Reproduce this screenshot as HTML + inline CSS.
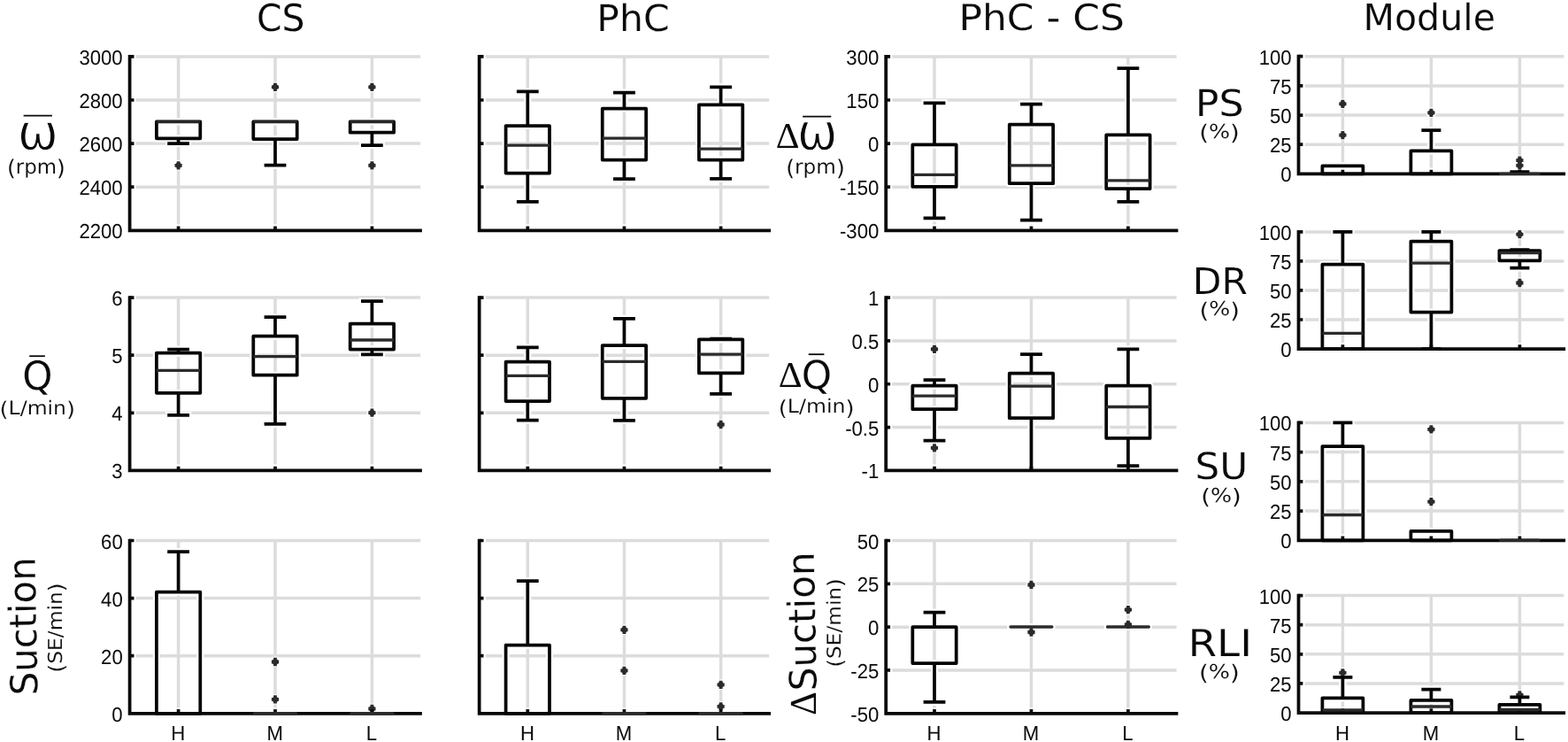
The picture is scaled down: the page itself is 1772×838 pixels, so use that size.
<!DOCTYPE html>
<html lang="en">
<head>
<meta charset="utf-8">
<title>Box plots: CS, PhC, PhC - CS, Module</title>
<style>
html,body{margin:0;padding:0;background:#fff;}
body{width:1772px;height:838px;overflow:hidden;}
svg{display:block;}
text{fill:#0a0a0a;text-rendering:geometricPrecision;}
.tk{font-family:"Liberation Sans",Arial,Helvetica,sans-serif;font-size:23.2px;}
.lb{font-family:"DejaVu Sans",Verdana,sans-serif;}
.dl{font-family:"Liberation Serif","Times New Roman",serif;}
.grid path{fill:none;stroke:#dcdcdc;stroke-width:3.5px;}
.halo path{fill:none;stroke:#fff;}
.ink path{fill:none;}
</style>
</head>
<body>
<svg width="1772" height="838" viewBox="0 0 1772 838">
<rect x="0" y="0" width="1772" height="838" fill="#ffffff"/>
<g class="grid">
<path d="M146.6 63.9H475.1M146.6 113H475.1M146.6 162.1H475.1M146.6 211.2H475.1M201.6 62.15V260.3M311 62.15V260.3M420.4 62.15V260.3"/>
<path d="M146.6 336.1H475.1M146.6 401.2H475.1M146.6 466.3H475.1M201.6 334.35V531.4M311 334.35V531.4M420.4 334.35V531.4"/>
<path d="M146.6 610.5H475.1M146.6 675.6H475.1M146.6 740.7H475.1M201.6 608.75V805.8M311 608.75V805.8M420.4 608.75V805.8"/>
<path d="M541.65 63.9H869.2M541.65 113H869.2M541.65 162.1H869.2M541.65 211.2H869.2M596.3 62.15V260.3M705.45 62.15V260.3M814.6 62.15V260.3"/>
<path d="M541.65 336.1H869.2M541.65 401.2H869.2M541.65 466.3H869.2M596.3 334.35V531.4M705.45 334.35V531.4M814.6 334.35V531.4"/>
<path d="M541.65 610.5H869.2M541.65 675.6H869.2M541.65 740.7H869.2M596.3 608.75V805.8M705.45 608.75V805.8M814.6 608.75V805.8"/>
<path d="M1001.2 63.9H1329.6M1001.2 113H1329.6M1001.2 162.1H1329.6M1001.2 211.2H1329.6M1056 62.15V260.3M1165.45 62.15V260.3M1274.9 62.15V260.3"/>
<path d="M1001.2 336.1H1329.6M1001.2 384.93H1329.6M1001.2 433.75H1329.6M1001.2 482.57H1329.6M1056 334.35V531.4M1165.45 334.35V531.4M1274.9 334.35V531.4"/>
<path d="M1001.2 610.5H1329.6M1001.2 659.33H1329.6M1001.2 708.15H1329.6M1001.2 756.97H1329.6M1056 608.75V805.8M1165.45 608.75V805.8M1274.9 608.75V805.8"/>
<path d="M1467.5 63.7H1767.3M1467.5 96.88H1767.3M1467.5 130.05H1767.3M1467.5 163.22H1767.3M1517.4 61.95V196.4M1617.4 61.95V196.4M1717.4 61.95V196.4"/>
<path d="M1467.5 261.9H1767.3M1467.5 294.92H1767.3M1467.5 327.95H1767.3M1467.5 360.98H1767.3M1517.4 260.15V394M1617.4 260.15V394M1717.4 260.15V394"/>
<path d="M1467.5 477.4H1767.3M1467.5 510.62H1767.3M1467.5 543.85H1767.3M1467.5 577.07H1767.3M1517.4 475.65V610.3M1617.4 475.65V610.3M1717.4 475.65V610.3"/>
<path d="M1467.5 672.6H1767.3M1467.5 705.7H1767.3M1467.5 738.8H1767.3M1467.5 771.9H1767.3M1517.4 670.85V805M1617.4 670.85V805M1717.4 670.85V805"/>
</g>
<g class="halo">
<path d="M146.6 63.9H153.7M146.6 113H153.7M146.6 162.1H153.7M146.6 211.2H153.7M201.6 260.3V253.4M311 260.3V253.4M420.4 260.3V253.4" stroke-width="8.1" stroke-linecap="butt" stroke-linejoin="miter"/>
<path d="M146.6 62.05V260.3H476.9" stroke-width="8.15" stroke-linecap="butt" stroke-linejoin="miter"/>
<path d="M201.6 156.3V162.1M187 162.1H216.2" stroke-width="8.15" stroke-linecap="butt" stroke-linejoin="miter"/>
<path d="M176.9 137.4H226.3V156.3H176.9Z" stroke-width="8.15" stroke-linecap="butt" stroke-linejoin="round"/>
<circle cx="201.6" cy="186.8" r="5.96" fill="#fff" stroke="none"/>
<path d="M311 157.1V186.5M296.4 186.5H325.6" stroke-width="8.15" stroke-linecap="butt" stroke-linejoin="miter"/>
<path d="M286.3 137.4H335.7V157.1H286.3Z" stroke-width="8.15" stroke-linecap="butt" stroke-linejoin="round"/>
<circle cx="311" cy="98.3" r="5.96" fill="#fff" stroke="none"/>
<path d="M420.4 149.7V164.1M405.8 164.1H435" stroke-width="8.15" stroke-linecap="butt" stroke-linejoin="miter"/>
<path d="M395.7 137.4H445.1V149.7H395.7Z" stroke-width="8.15" stroke-linecap="butt" stroke-linejoin="round"/>
<circle cx="420.4" cy="98.3" r="5.96" fill="#fff" stroke="none"/>
<circle cx="420.4" cy="186.8" r="5.96" fill="#fff" stroke="none"/>
<path d="M146.6 336.1H153.7M146.6 401.2H153.7M146.6 466.3H153.7M201.6 531.4V524.5M311 531.4V524.5M420.4 531.4V524.5" stroke-width="8.1" stroke-linecap="butt" stroke-linejoin="miter"/>
<path d="M146.6 334.25V531.4H476.9" stroke-width="8.15" stroke-linecap="butt" stroke-linejoin="miter"/>
<path d="M201.6 398.6V394.6M187 394.6H216.2M201.6 443.8V468.8M187 468.8H216.2" stroke-width="8.15" stroke-linecap="butt" stroke-linejoin="miter"/>
<path d="M176.9 398.6H226.3V443.8H176.9Z" stroke-width="8.15" stroke-linecap="butt" stroke-linejoin="round"/>
<path d="M311 379.6V358.2M296.4 358.2H325.6M311 423.7V478.9M296.4 478.9H325.6" stroke-width="8.15" stroke-linecap="butt" stroke-linejoin="miter"/>
<path d="M286.3 379.6H335.7V423.7H286.3Z" stroke-width="8.15" stroke-linecap="butt" stroke-linejoin="round"/>
<path d="M420.4 365.6V340.2M405.8 340.2H435M420.4 394.6V400.3M405.8 400.3H435" stroke-width="8.15" stroke-linecap="butt" stroke-linejoin="miter"/>
<path d="M395.7 365.6H445.1V394.6H395.7Z" stroke-width="8.15" stroke-linecap="butt" stroke-linejoin="round"/>
<circle cx="420.4" cy="466.2" r="5.96" fill="#fff" stroke="none"/>
<path d="M146.6 610.5H153.7M146.6 675.6H153.7M146.6 740.7H153.7M201.6 805.8V798.9M311 805.8V798.9M420.4 805.8V798.9" stroke-width="8.1" stroke-linecap="butt" stroke-linejoin="miter"/>
<path d="M146.6 608.65V805.8H476.9" stroke-width="8.15" stroke-linecap="butt" stroke-linejoin="miter"/>
<path d="M201.6 668.5V623M187 623H216.2" stroke-width="8.15" stroke-linecap="butt" stroke-linejoin="miter"/>
<path d="M176.9 668.5H226.3V805.8H176.9Z" stroke-width="8.15" stroke-linecap="butt" stroke-linejoin="round"/>
<circle cx="311" cy="747.5" r="5.96" fill="#fff" stroke="none"/>
<circle cx="311" cy="789.9" r="5.96" fill="#fff" stroke="none"/>
<circle cx="420.4" cy="800.5" r="5.96" fill="#fff" stroke="none"/>
<path d="M541.65 63.9H548.75M541.65 113H548.75M541.65 162.1H548.75M541.65 211.2H548.75M596.3 260.3V253.4M705.45 260.3V253.4M814.6 260.3V253.4" stroke-width="8.1" stroke-linecap="butt" stroke-linejoin="miter"/>
<path d="M541.65 62.05V260.3H871" stroke-width="8.15" stroke-linecap="butt" stroke-linejoin="miter"/>
<path d="M596.3 142V103.3M581.7 103.3H610.9M596.3 195.5V227.9M581.7 227.9H610.9" stroke-width="8.15" stroke-linecap="butt" stroke-linejoin="miter"/>
<path d="M571.6 142H621V195.5H571.6Z" stroke-width="8.15" stroke-linecap="butt" stroke-linejoin="round"/>
<path d="M705.45 122.7V104.6M690.85 104.6H720.05M705.45 180.5V202.2M690.85 202.2H720.05" stroke-width="8.15" stroke-linecap="butt" stroke-linejoin="miter"/>
<path d="M680.75 122.7H730.15V180.5H680.75Z" stroke-width="8.15" stroke-linecap="butt" stroke-linejoin="round"/>
<path d="M814.6 118.3V98.3M800 98.3H829.2M814.6 180.5V201.9M800 201.9H829.2" stroke-width="8.15" stroke-linecap="butt" stroke-linejoin="miter"/>
<path d="M789.9 118.3H839.3V180.5H789.9Z" stroke-width="8.15" stroke-linecap="butt" stroke-linejoin="round"/>
<path d="M541.65 336.1H548.75M541.65 401.2H548.75M541.65 466.3H548.75M596.3 531.4V524.5M705.45 531.4V524.5M814.6 531.4V524.5" stroke-width="8.1" stroke-linecap="butt" stroke-linejoin="miter"/>
<path d="M541.65 334.25V531.4H871" stroke-width="8.15" stroke-linecap="butt" stroke-linejoin="miter"/>
<path d="M596.3 408.7V392.3M581.7 392.3H610.9M596.3 453.1V474.5M581.7 474.5H610.9" stroke-width="8.15" stroke-linecap="butt" stroke-linejoin="miter"/>
<path d="M571.6 408.7H621V453.1H571.6Z" stroke-width="8.15" stroke-linecap="butt" stroke-linejoin="round"/>
<path d="M705.45 390V359.9M690.85 359.9H720.05M705.45 449.8V474.9M690.85 474.9H720.05" stroke-width="8.15" stroke-linecap="butt" stroke-linejoin="miter"/>
<path d="M680.75 390H730.15V449.8H680.75Z" stroke-width="8.15" stroke-linecap="butt" stroke-linejoin="round"/>
<path d="M814.6 383.3V382.6M800 382.6H829.2M814.6 421.4V444.8M800 444.8H829.2" stroke-width="8.15" stroke-linecap="butt" stroke-linejoin="miter"/>
<path d="M789.9 383.3H839.3V421.4H789.9Z" stroke-width="8.15" stroke-linecap="butt" stroke-linejoin="round"/>
<circle cx="814.6" cy="479.5" r="5.96" fill="#fff" stroke="none"/>
<path d="M541.65 610.5H548.75M541.65 675.6H548.75M541.65 740.7H548.75M596.3 805.8V798.9M705.45 805.8V798.9M814.6 805.8V798.9" stroke-width="8.1" stroke-linecap="butt" stroke-linejoin="miter"/>
<path d="M541.65 608.65V805.8H871" stroke-width="8.15" stroke-linecap="butt" stroke-linejoin="miter"/>
<path d="M596.3 728.5V656.2M581.7 656.2H610.9" stroke-width="8.15" stroke-linecap="butt" stroke-linejoin="miter"/>
<path d="M571.6 728.5H621V805.8H571.6Z" stroke-width="8.15" stroke-linecap="butt" stroke-linejoin="round"/>
<circle cx="705.45" cy="711.3" r="5.96" fill="#fff" stroke="none"/>
<circle cx="705.45" cy="757.4" r="5.96" fill="#fff" stroke="none"/>
<circle cx="814.6" cy="773.3" r="5.96" fill="#fff" stroke="none"/>
<circle cx="814.6" cy="797.9" r="5.96" fill="#fff" stroke="none"/>
<path d="M1001.2 63.9H1008.3M1001.2 113H1008.3M1001.2 162.1H1008.3M1001.2 211.2H1008.3M1056 260.3V253.4M1165.45 260.3V253.4M1274.9 260.3V253.4" stroke-width="8.1" stroke-linecap="butt" stroke-linejoin="miter"/>
<path d="M1001.2 62.05V260.3H1331.4" stroke-width="8.15" stroke-linecap="butt" stroke-linejoin="miter"/>
<path d="M1056 163.4V116.3M1041.4 116.3H1070.6M1056 210.9V246.3M1041.4 246.3H1070.6" stroke-width="8.15" stroke-linecap="butt" stroke-linejoin="miter"/>
<path d="M1031.3 163.4H1080.7V210.9H1031.3Z" stroke-width="8.15" stroke-linecap="butt" stroke-linejoin="round"/>
<path d="M1165.45 140.7V117.6M1150.85 117.6H1180.05M1165.45 207.2V248.7M1150.85 248.7H1180.05" stroke-width="8.15" stroke-linecap="butt" stroke-linejoin="miter"/>
<path d="M1140.75 140.7H1190.15V207.2H1140.75Z" stroke-width="8.15" stroke-linecap="butt" stroke-linejoin="round"/>
<path d="M1274.9 152.4V77.2M1260.3 77.2H1289.5M1274.9 213.2V227.9M1260.3 227.9H1289.5" stroke-width="8.15" stroke-linecap="butt" stroke-linejoin="miter"/>
<path d="M1250.2 152.4H1299.6V213.2H1250.2Z" stroke-width="8.15" stroke-linecap="butt" stroke-linejoin="round"/>
<path d="M1001.2 336.1H1008.3M1001.2 384.93H1008.3M1001.2 433.75H1008.3M1001.2 482.57H1008.3M1056 531.4V524.5M1165.45 531.4V524.5M1274.9 531.4V524.5" stroke-width="8.1" stroke-linecap="butt" stroke-linejoin="miter"/>
<path d="M1001.2 334.25V531.4H1331.4" stroke-width="8.15" stroke-linecap="butt" stroke-linejoin="miter"/>
<path d="M1056 435.7V429.1M1041.4 429.1H1070.6M1056 462.2V497.6M1041.4 497.6H1070.6" stroke-width="8.15" stroke-linecap="butt" stroke-linejoin="miter"/>
<path d="M1031.3 435.7H1080.7V462.2H1031.3Z" stroke-width="8.15" stroke-linecap="butt" stroke-linejoin="round"/>
<circle cx="1056" cy="394.3" r="5.96" fill="#fff" stroke="none"/>
<circle cx="1056" cy="505.9" r="5.96" fill="#fff" stroke="none"/>
<path d="M1165.45 421.7V400M1150.85 400H1180.05M1165.45 472.2V531.4" stroke-width="8.15" stroke-linecap="butt" stroke-linejoin="miter"/>
<path d="M1140.75 421.7H1190.15V472.2H1140.75Z" stroke-width="8.15" stroke-linecap="butt" stroke-linejoin="round"/>
<path d="M1274.9 435.7V394.3M1260.3 394.3H1289.5M1274.9 494.9V526M1260.3 526H1289.5" stroke-width="8.15" stroke-linecap="butt" stroke-linejoin="miter"/>
<path d="M1250.2 435.7H1299.6V494.9H1250.2Z" stroke-width="8.15" stroke-linecap="butt" stroke-linejoin="round"/>
<path d="M1001.2 610.5H1008.3M1001.2 659.33H1008.3M1001.2 708.15H1008.3M1001.2 756.97H1008.3M1056 805.8V798.9M1165.45 805.8V798.9M1274.9 805.8V798.9" stroke-width="8.1" stroke-linecap="butt" stroke-linejoin="miter"/>
<path d="M1001.2 608.65V805.8H1331.4" stroke-width="8.15" stroke-linecap="butt" stroke-linejoin="miter"/>
<path d="M1056 708V691.7M1041.4 691.7H1070.6M1056 749.1V792.9M1041.4 792.9H1070.6" stroke-width="8.15" stroke-linecap="butt" stroke-linejoin="miter"/>
<path d="M1031.3 708H1080.7V749.1H1031.3Z" stroke-width="8.15" stroke-linecap="butt" stroke-linejoin="round"/>
<path d="M1142.05 708H1188.85" stroke-width="7.8" stroke-linecap="round" stroke-linejoin="miter"/>
<circle cx="1165.45" cy="660.5" r="5.96" fill="#fff" stroke="none"/>
<circle cx="1165.45" cy="714" r="5.96" fill="#fff" stroke="none"/>
<path d="M1251.5 708H1298.3" stroke-width="7.8" stroke-linecap="round" stroke-linejoin="miter"/>
<circle cx="1274.9" cy="688.7" r="5.96" fill="#fff" stroke="none"/>
<circle cx="1274.9" cy="705.3" r="5.96" fill="#fff" stroke="none"/>
<path d="M1467.5 63.7H1474.6M1467.5 96.88H1474.6M1467.5 130.05H1474.6M1467.5 163.22H1474.6M1517.4 196.4V189.5M1617.4 196.4V189.5M1717.4 196.4V189.5" stroke-width="8.1" stroke-linecap="butt" stroke-linejoin="miter"/>
<path d="M1467.5 61.85V196.4H1769.1" stroke-width="8.15" stroke-linecap="butt" stroke-linejoin="miter"/>
<path d="M1494.4 187.4H1540.4V196.4H1494.4Z" stroke-width="8.15" stroke-linecap="butt" stroke-linejoin="round"/>
<circle cx="1517.4" cy="117.3" r="5.96" fill="#fff" stroke="none"/>
<circle cx="1517.4" cy="152.6" r="5.96" fill="#fff" stroke="none"/>
<path d="M1617.4 170.4V147.1M1604.2 147.1H1630.6" stroke-width="8.15" stroke-linecap="butt" stroke-linejoin="miter"/>
<path d="M1594.4 170.4H1640.4V196.4H1594.4Z" stroke-width="8.15" stroke-linecap="butt" stroke-linejoin="round"/>
<circle cx="1617.4" cy="127.3" r="5.96" fill="#fff" stroke="none"/>
<path d="M1717.4 196.4V194M1704.2 194H1730.6" stroke-width="8.15" stroke-linecap="butt" stroke-linejoin="miter"/>
<circle cx="1717.4" cy="181.1" r="5.96" fill="#fff" stroke="none"/>
<circle cx="1717.4" cy="186.9" r="5.96" fill="#fff" stroke="none"/>
<path d="M1467.5 261.9H1474.6M1467.5 294.92H1474.6M1467.5 327.95H1474.6M1467.5 360.98H1474.6M1517.4 394V387.1M1617.4 394V387.1M1717.4 394V387.1" stroke-width="8.1" stroke-linecap="butt" stroke-linejoin="miter"/>
<path d="M1467.5 260.05V394H1769.1" stroke-width="8.15" stroke-linecap="butt" stroke-linejoin="miter"/>
<path d="M1517.4 298.7V261.9M1504.2 261.9H1530.6" stroke-width="8.15" stroke-linecap="butt" stroke-linejoin="miter"/>
<path d="M1494.4 298.7H1540.4V394H1494.4Z" stroke-width="8.15" stroke-linecap="butt" stroke-linejoin="round"/>
<path d="M1617.4 272.6V261.9M1604.2 261.9H1630.6M1617.4 352.6V394M1604.2 394H1630.6" stroke-width="8.15" stroke-linecap="butt" stroke-linejoin="miter"/>
<path d="M1594.4 272.6H1640.4V352.6H1594.4Z" stroke-width="8.15" stroke-linecap="butt" stroke-linejoin="round"/>
<path d="M1717.4 283V282M1704.2 282H1730.6M1717.4 294.3V302.5M1704.2 302.5H1730.6" stroke-width="8.15" stroke-linecap="butt" stroke-linejoin="miter"/>
<path d="M1694.4 283H1740.4V294.3H1694.4Z" stroke-width="8.15" stroke-linecap="butt" stroke-linejoin="round"/>
<circle cx="1717.4" cy="264.6" r="5.96" fill="#fff" stroke="none"/>
<circle cx="1717.4" cy="319.5" r="5.96" fill="#fff" stroke="none"/>
<path d="M1467.5 477.4H1474.6M1467.5 510.62H1474.6M1467.5 543.85H1474.6M1467.5 577.07H1474.6M1517.4 610.3V603.4M1617.4 610.3V603.4M1717.4 610.3V603.4" stroke-width="8.1" stroke-linecap="butt" stroke-linejoin="miter"/>
<path d="M1467.5 475.55V610.3H1769.1" stroke-width="8.15" stroke-linecap="butt" stroke-linejoin="miter"/>
<path d="M1517.4 504.1V477.4M1504.2 477.4H1530.6" stroke-width="8.15" stroke-linecap="butt" stroke-linejoin="miter"/>
<path d="M1494.4 504.1H1540.4V610.3H1494.4Z" stroke-width="8.15" stroke-linecap="butt" stroke-linejoin="round"/>
<path d="M1594.4 599.9H1640.4V610.3H1594.4Z" stroke-width="8.15" stroke-linecap="butt" stroke-linejoin="round"/>
<circle cx="1617.4" cy="484.9" r="5.96" fill="#fff" stroke="none"/>
<circle cx="1617.4" cy="566.6" r="5.96" fill="#fff" stroke="none"/>
<path d="M1467.5 672.6H1474.6M1467.5 705.7H1474.6M1467.5 738.8H1474.6M1467.5 771.9H1474.6M1517.4 805V798.1M1617.4 805V798.1M1717.4 805V798.1" stroke-width="8.1" stroke-linecap="butt" stroke-linejoin="miter"/>
<path d="M1467.5 670.75V805H1769.1" stroke-width="8.15" stroke-linecap="butt" stroke-linejoin="miter"/>
<path d="M1517.4 788.4V764.8M1504.2 764.8H1530.6" stroke-width="8.15" stroke-linecap="butt" stroke-linejoin="miter"/>
<path d="M1494.4 788.4H1540.4V805H1494.4Z" stroke-width="8.15" stroke-linecap="butt" stroke-linejoin="round"/>
<circle cx="1517.4" cy="759.8" r="5.96" fill="#fff" stroke="none"/>
<path d="M1617.4 790.9V778.6M1604.2 778.6H1630.6" stroke-width="8.15" stroke-linecap="butt" stroke-linejoin="miter"/>
<path d="M1594.4 790.9H1640.4V805H1594.4Z" stroke-width="8.15" stroke-linecap="butt" stroke-linejoin="round"/>
<path d="M1717.4 795.9V787.4M1704.2 787.4H1730.6" stroke-width="8.15" stroke-linecap="butt" stroke-linejoin="miter"/>
<path d="M1694.4 795.9H1740.4V805H1694.4Z" stroke-width="8.15" stroke-linecap="butt" stroke-linejoin="round"/>
<circle cx="1717.4" cy="784.9" r="5.96" fill="#fff" stroke="none"/>
</g>
<g class="outliers">
<path d="M197.5 186.8H205.7M201.6 182.15V191.45" stroke="#2b2b2b" stroke-width="3.8" fill="none"/><circle cx="201.6" cy="186.8" r="3.2" fill="#2b2b2b"/>
<path d="M306.9 98.3H315.1M311 93.65V102.95" stroke="#2b2b2b" stroke-width="3.8" fill="none"/><circle cx="311" cy="98.3" r="3.2" fill="#2b2b2b"/>
<path d="M416.3 98.3H424.5M420.4 93.65V102.95" stroke="#2b2b2b" stroke-width="3.8" fill="none"/><circle cx="420.4" cy="98.3" r="3.2" fill="#2b2b2b"/>
<path d="M416.3 186.8H424.5M420.4 182.15V191.45" stroke="#2b2b2b" stroke-width="3.8" fill="none"/><circle cx="420.4" cy="186.8" r="3.2" fill="#2b2b2b"/>
<path d="M416.3 466.2H424.5M420.4 461.55V470.85" stroke="#2b2b2b" stroke-width="3.8" fill="none"/><circle cx="420.4" cy="466.2" r="3.2" fill="#2b2b2b"/>
<path d="M306.9 747.5H315.1M311 742.85V752.15" stroke="#2b2b2b" stroke-width="3.8" fill="none"/><circle cx="311" cy="747.5" r="3.2" fill="#2b2b2b"/>
<path d="M306.9 789.9H315.1M311 785.25V794.55" stroke="#2b2b2b" stroke-width="3.8" fill="none"/><circle cx="311" cy="789.9" r="3.2" fill="#2b2b2b"/>
<path d="M416.3 800.5H424.5M420.4 795.85V805.15" stroke="#2b2b2b" stroke-width="3.8" fill="none"/><circle cx="420.4" cy="800.5" r="3.2" fill="#2b2b2b"/>
<path d="M810.5 479.5H818.7M814.6 474.85V484.15" stroke="#2b2b2b" stroke-width="3.8" fill="none"/><circle cx="814.6" cy="479.5" r="3.2" fill="#2b2b2b"/>
<path d="M701.35 711.3H709.55M705.45 706.65V715.95" stroke="#2b2b2b" stroke-width="3.8" fill="none"/><circle cx="705.45" cy="711.3" r="3.2" fill="#2b2b2b"/>
<path d="M701.35 757.4H709.55M705.45 752.75V762.05" stroke="#2b2b2b" stroke-width="3.8" fill="none"/><circle cx="705.45" cy="757.4" r="3.2" fill="#2b2b2b"/>
<path d="M810.5 773.3H818.7M814.6 768.65V777.95" stroke="#2b2b2b" stroke-width="3.8" fill="none"/><circle cx="814.6" cy="773.3" r="3.2" fill="#2b2b2b"/>
<path d="M810.5 797.9H818.7M814.6 793.25V802.55" stroke="#2b2b2b" stroke-width="3.8" fill="none"/><circle cx="814.6" cy="797.9" r="3.2" fill="#2b2b2b"/>
<path d="M1051.9 394.3H1060.1M1056 389.65V398.95" stroke="#2b2b2b" stroke-width="3.8" fill="none"/><circle cx="1056" cy="394.3" r="3.2" fill="#2b2b2b"/>
<path d="M1051.9 505.9H1060.1M1056 501.25V510.55" stroke="#2b2b2b" stroke-width="3.8" fill="none"/><circle cx="1056" cy="505.9" r="3.2" fill="#2b2b2b"/>
<path d="M1161.35 660.5H1169.55M1165.45 655.85V665.15" stroke="#2b2b2b" stroke-width="3.8" fill="none"/><circle cx="1165.45" cy="660.5" r="3.2" fill="#2b2b2b"/>
<path d="M1161.35 714H1169.55M1165.45 709.35V718.65" stroke="#2b2b2b" stroke-width="3.8" fill="none"/><circle cx="1165.45" cy="714" r="3.2" fill="#2b2b2b"/>
<path d="M1270.8 688.7H1279M1274.9 684.05V693.35" stroke="#2b2b2b" stroke-width="3.8" fill="none"/><circle cx="1274.9" cy="688.7" r="3.2" fill="#2b2b2b"/>
<path d="M1270.8 705.3H1279M1274.9 700.65V709.95" stroke="#2b2b2b" stroke-width="3.8" fill="none"/><circle cx="1274.9" cy="705.3" r="3.2" fill="#2b2b2b"/>
<path d="M1513.3 117.3H1521.5M1517.4 112.65V121.95" stroke="#2b2b2b" stroke-width="3.8" fill="none"/><circle cx="1517.4" cy="117.3" r="3.2" fill="#2b2b2b"/>
<path d="M1513.3 152.6H1521.5M1517.4 147.95V157.25" stroke="#2b2b2b" stroke-width="3.8" fill="none"/><circle cx="1517.4" cy="152.6" r="3.2" fill="#2b2b2b"/>
<path d="M1613.3 127.3H1621.5M1617.4 122.65V131.95" stroke="#2b2b2b" stroke-width="3.8" fill="none"/><circle cx="1617.4" cy="127.3" r="3.2" fill="#2b2b2b"/>
<path d="M1713.3 181.1H1721.5M1717.4 176.45V185.75" stroke="#2b2b2b" stroke-width="3.8" fill="none"/><circle cx="1717.4" cy="181.1" r="3.2" fill="#2b2b2b"/>
<path d="M1713.3 186.9H1721.5M1717.4 182.25V191.55" stroke="#2b2b2b" stroke-width="3.8" fill="none"/><circle cx="1717.4" cy="186.9" r="3.2" fill="#2b2b2b"/>
<path d="M1713.3 264.6H1721.5M1717.4 259.95V269.25" stroke="#2b2b2b" stroke-width="3.8" fill="none"/><circle cx="1717.4" cy="264.6" r="3.2" fill="#2b2b2b"/>
<path d="M1713.3 319.5H1721.5M1717.4 314.85V324.15" stroke="#2b2b2b" stroke-width="3.8" fill="none"/><circle cx="1717.4" cy="319.5" r="3.2" fill="#2b2b2b"/>
<path d="M1613.3 484.9H1621.5M1617.4 480.25V489.55" stroke="#2b2b2b" stroke-width="3.8" fill="none"/><circle cx="1617.4" cy="484.9" r="3.2" fill="#2b2b2b"/>
<path d="M1613.3 566.6H1621.5M1617.4 561.95V571.25" stroke="#2b2b2b" stroke-width="3.8" fill="none"/><circle cx="1617.4" cy="566.6" r="3.2" fill="#2b2b2b"/>
<path d="M1513.3 759.8H1521.5M1517.4 755.15V764.45" stroke="#2b2b2b" stroke-width="3.8" fill="none"/><circle cx="1517.4" cy="759.8" r="3.2" fill="#2b2b2b"/>
<path d="M1713.3 784.9H1721.5M1717.4 780.25V789.55" stroke="#2b2b2b" stroke-width="3.8" fill="none"/><circle cx="1717.4" cy="784.9" r="3.2" fill="#2b2b2b"/>
</g>
<g class="ink">
<path d="M146.6 63.9H151.5M146.6 113H151.5M146.6 162.1H151.5M146.6 211.2H151.5M201.6 260.3V255.6M311 260.3V255.6M420.4 260.3V255.6" stroke="#0a0a0a" stroke-width="3.7" stroke-linecap="butt" stroke-linejoin="miter"/>
<path d="M146.6 62.05V260.3H476.9" stroke="#0a0a0a" stroke-width="3.75" stroke-linecap="butt" stroke-linejoin="miter"/>
<path d="M201.6 156.3V162.1M189.2 162.1H214" stroke="#050505" stroke-width="3.75" stroke-linecap="butt" stroke-linejoin="miter"/>
<path d="M176.9 137.4H226.3V156.3H176.9Z" stroke="#050505" stroke-width="3.75" stroke-linecap="butt" stroke-linejoin="round"/>
<path d="M176.9 137.5H226.3" stroke="#2b2b2b" stroke-width="2.6" stroke-linecap="butt" stroke-linejoin="miter"/>
<path d="M311 157.1V186.5M298.6 186.5H323.4" stroke="#050505" stroke-width="3.75" stroke-linecap="butt" stroke-linejoin="miter"/>
<path d="M286.3 137.4H335.7V157.1H286.3Z" stroke="#050505" stroke-width="3.75" stroke-linecap="butt" stroke-linejoin="round"/>
<path d="M286.3 137.5H335.7" stroke="#2b2b2b" stroke-width="2.6" stroke-linecap="butt" stroke-linejoin="miter"/>
<path d="M420.4 149.7V164.1M408 164.1H432.8" stroke="#050505" stroke-width="3.75" stroke-linecap="butt" stroke-linejoin="miter"/>
<path d="M395.7 137.4H445.1V149.7H395.7Z" stroke="#050505" stroke-width="3.75" stroke-linecap="butt" stroke-linejoin="round"/>
<path d="M395.7 137.5H445.1" stroke="#2b2b2b" stroke-width="2.6" stroke-linecap="butt" stroke-linejoin="miter"/>
<path d="M146.6 336.1H151.5M146.6 401.2H151.5M146.6 466.3H151.5M201.6 531.4V526.7M311 531.4V526.7M420.4 531.4V526.7" stroke="#0a0a0a" stroke-width="3.7" stroke-linecap="butt" stroke-linejoin="miter"/>
<path d="M146.6 334.25V531.4H476.9" stroke="#0a0a0a" stroke-width="3.75" stroke-linecap="butt" stroke-linejoin="miter"/>
<path d="M201.6 398.6V394.6M189.2 394.6H214M201.6 443.8V468.8M189.2 468.8H214" stroke="#050505" stroke-width="3.75" stroke-linecap="butt" stroke-linejoin="miter"/>
<path d="M176.9 398.6H226.3V443.8H176.9Z" stroke="#050505" stroke-width="3.75" stroke-linecap="butt" stroke-linejoin="round"/>
<path d="M176.9 418.4H226.3" stroke="#2b2b2b" stroke-width="3.3" stroke-linecap="butt" stroke-linejoin="miter"/>
<path d="M311 379.6V358.2M298.6 358.2H323.4M311 423.7V478.9M298.6 478.9H323.4" stroke="#050505" stroke-width="3.75" stroke-linecap="butt" stroke-linejoin="miter"/>
<path d="M286.3 379.6H335.7V423.7H286.3Z" stroke="#050505" stroke-width="3.75" stroke-linecap="butt" stroke-linejoin="round"/>
<path d="M286.3 402.7H335.7" stroke="#2b2b2b" stroke-width="3.3" stroke-linecap="butt" stroke-linejoin="miter"/>
<path d="M420.4 365.6V340.2M408 340.2H432.8M420.4 394.6V400.3M408 400.3H432.8" stroke="#050505" stroke-width="3.75" stroke-linecap="butt" stroke-linejoin="miter"/>
<path d="M395.7 365.6H445.1V394.6H395.7Z" stroke="#050505" stroke-width="3.75" stroke-linecap="butt" stroke-linejoin="round"/>
<path d="M395.7 384H445.1" stroke="#2b2b2b" stroke-width="3.3" stroke-linecap="butt" stroke-linejoin="miter"/>
<path d="M146.6 610.5H151.5M146.6 675.6H151.5M146.6 740.7H151.5M201.6 805.8V801.1M311 805.8V801.1M420.4 805.8V801.1" stroke="#0a0a0a" stroke-width="3.7" stroke-linecap="butt" stroke-linejoin="miter"/>
<path d="M146.6 608.65V805.8H476.9" stroke="#0a0a0a" stroke-width="3.75" stroke-linecap="butt" stroke-linejoin="miter"/>
<path d="M201.6 668.5V623M189.2 623H214" stroke="#050505" stroke-width="3.75" stroke-linecap="butt" stroke-linejoin="miter"/>
<path d="M176.9 668.5H226.3V805.8H176.9Z" stroke="#050505" stroke-width="3.75" stroke-linecap="butt" stroke-linejoin="round"/>
<path d="M287.6 805.8H334.4" stroke="#2b2b2b" stroke-width="3.4" stroke-linecap="round" stroke-linejoin="miter"/>
<path d="M397 805.8H443.8" stroke="#2b2b2b" stroke-width="3.4" stroke-linecap="round" stroke-linejoin="miter"/>
<path d="M541.65 63.9H546.55M541.65 113H546.55M541.65 162.1H546.55M541.65 211.2H546.55M596.3 260.3V255.6M705.45 260.3V255.6M814.6 260.3V255.6" stroke="#0a0a0a" stroke-width="3.7" stroke-linecap="butt" stroke-linejoin="miter"/>
<path d="M541.65 62.05V260.3H871" stroke="#0a0a0a" stroke-width="3.75" stroke-linecap="butt" stroke-linejoin="miter"/>
<path d="M596.3 142V103.3M583.9 103.3H608.7M596.3 195.5V227.9M583.9 227.9H608.7" stroke="#050505" stroke-width="3.75" stroke-linecap="butt" stroke-linejoin="miter"/>
<path d="M571.6 142H621V195.5H571.6Z" stroke="#050505" stroke-width="3.75" stroke-linecap="butt" stroke-linejoin="round"/>
<path d="M571.6 164.2H621" stroke="#2b2b2b" stroke-width="3.3" stroke-linecap="butt" stroke-linejoin="miter"/>
<path d="M705.45 122.7V104.6M693.05 104.6H717.85M705.45 180.5V202.2M693.05 202.2H717.85" stroke="#050505" stroke-width="3.75" stroke-linecap="butt" stroke-linejoin="miter"/>
<path d="M680.75 122.7H730.15V180.5H680.75Z" stroke="#050505" stroke-width="3.75" stroke-linecap="butt" stroke-linejoin="round"/>
<path d="M680.75 156.1H730.15" stroke="#2b2b2b" stroke-width="3.3" stroke-linecap="butt" stroke-linejoin="miter"/>
<path d="M814.6 118.3V98.3M802.2 98.3H827M814.6 180.5V201.9M802.2 201.9H827" stroke="#050505" stroke-width="3.75" stroke-linecap="butt" stroke-linejoin="miter"/>
<path d="M789.9 118.3H839.3V180.5H789.9Z" stroke="#050505" stroke-width="3.75" stroke-linecap="butt" stroke-linejoin="round"/>
<path d="M789.9 168.2H839.3" stroke="#2b2b2b" stroke-width="3.3" stroke-linecap="butt" stroke-linejoin="miter"/>
<path d="M541.65 336.1H546.55M541.65 401.2H546.55M541.65 466.3H546.55M596.3 531.4V526.7M705.45 531.4V526.7M814.6 531.4V526.7" stroke="#0a0a0a" stroke-width="3.7" stroke-linecap="butt" stroke-linejoin="miter"/>
<path d="M541.65 334.25V531.4H871" stroke="#0a0a0a" stroke-width="3.75" stroke-linecap="butt" stroke-linejoin="miter"/>
<path d="M596.3 408.7V392.3M583.9 392.3H608.7M596.3 453.1V474.5M583.9 474.5H608.7" stroke="#050505" stroke-width="3.75" stroke-linecap="butt" stroke-linejoin="miter"/>
<path d="M571.6 408.7H621V453.1H571.6Z" stroke="#050505" stroke-width="3.75" stroke-linecap="butt" stroke-linejoin="round"/>
<path d="M571.6 424.4H621" stroke="#2b2b2b" stroke-width="3.3" stroke-linecap="butt" stroke-linejoin="miter"/>
<path d="M705.45 390V359.9M693.05 359.9H717.85M705.45 449.8V474.9M693.05 474.9H717.85" stroke="#050505" stroke-width="3.75" stroke-linecap="butt" stroke-linejoin="miter"/>
<path d="M680.75 390H730.15V449.8H680.75Z" stroke="#050505" stroke-width="3.75" stroke-linecap="butt" stroke-linejoin="round"/>
<path d="M680.75 408.4H730.15" stroke="#2b2b2b" stroke-width="3.3" stroke-linecap="butt" stroke-linejoin="miter"/>
<path d="M814.6 383.3V382.6M802.2 382.6H827M814.6 421.4V444.8M802.2 444.8H827" stroke="#050505" stroke-width="3.75" stroke-linecap="butt" stroke-linejoin="miter"/>
<path d="M789.9 383.3H839.3V421.4H789.9Z" stroke="#050505" stroke-width="3.75" stroke-linecap="butt" stroke-linejoin="round"/>
<path d="M789.9 400.1H839.3" stroke="#2b2b2b" stroke-width="3.3" stroke-linecap="butt" stroke-linejoin="miter"/>
<path d="M541.65 610.5H546.55M541.65 675.6H546.55M541.65 740.7H546.55M596.3 805.8V801.1M705.45 805.8V801.1M814.6 805.8V801.1" stroke="#0a0a0a" stroke-width="3.7" stroke-linecap="butt" stroke-linejoin="miter"/>
<path d="M541.65 608.65V805.8H871" stroke="#0a0a0a" stroke-width="3.75" stroke-linecap="butt" stroke-linejoin="miter"/>
<path d="M596.3 728.5V656.2M583.9 656.2H608.7" stroke="#050505" stroke-width="3.75" stroke-linecap="butt" stroke-linejoin="miter"/>
<path d="M571.6 728.5H621V805.8H571.6Z" stroke="#050505" stroke-width="3.75" stroke-linecap="butt" stroke-linejoin="round"/>
<path d="M682.05 805.8H728.85" stroke="#2b2b2b" stroke-width="3.4" stroke-linecap="round" stroke-linejoin="miter"/>
<path d="M791.2 805.8H838" stroke="#2b2b2b" stroke-width="3.4" stroke-linecap="round" stroke-linejoin="miter"/>
<path d="M1001.2 63.9H1006.1M1001.2 113H1006.1M1001.2 162.1H1006.1M1001.2 211.2H1006.1M1056 260.3V255.6M1165.45 260.3V255.6M1274.9 260.3V255.6" stroke="#0a0a0a" stroke-width="3.7" stroke-linecap="butt" stroke-linejoin="miter"/>
<path d="M1001.2 62.05V260.3H1331.4" stroke="#0a0a0a" stroke-width="3.75" stroke-linecap="butt" stroke-linejoin="miter"/>
<path d="M1056 163.4V116.3M1043.6 116.3H1068.4M1056 210.9V246.3M1043.6 246.3H1068.4" stroke="#050505" stroke-width="3.75" stroke-linecap="butt" stroke-linejoin="miter"/>
<path d="M1031.3 163.4H1080.7V210.9H1031.3Z" stroke="#050505" stroke-width="3.75" stroke-linecap="butt" stroke-linejoin="round"/>
<path d="M1031.3 197.3H1080.7" stroke="#2b2b2b" stroke-width="3.3" stroke-linecap="butt" stroke-linejoin="miter"/>
<path d="M1165.45 140.7V117.6M1153.05 117.6H1177.85M1165.45 207.2V248.7M1153.05 248.7H1177.85" stroke="#050505" stroke-width="3.75" stroke-linecap="butt" stroke-linejoin="miter"/>
<path d="M1140.75 140.7H1190.15V207.2H1140.75Z" stroke="#050505" stroke-width="3.75" stroke-linecap="butt" stroke-linejoin="round"/>
<path d="M1140.75 186.9H1190.15" stroke="#2b2b2b" stroke-width="3.3" stroke-linecap="butt" stroke-linejoin="miter"/>
<path d="M1274.9 152.4V77.2M1262.5 77.2H1287.3M1274.9 213.2V227.9M1262.5 227.9H1287.3" stroke="#050505" stroke-width="3.75" stroke-linecap="butt" stroke-linejoin="miter"/>
<path d="M1250.2 152.4H1299.6V213.2H1250.2Z" stroke="#050505" stroke-width="3.75" stroke-linecap="butt" stroke-linejoin="round"/>
<path d="M1250.2 203.9H1299.6" stroke="#2b2b2b" stroke-width="3.3" stroke-linecap="butt" stroke-linejoin="miter"/>
<path d="M1001.2 336.1H1006.1M1001.2 384.93H1006.1M1001.2 433.75H1006.1M1001.2 482.57H1006.1M1056 531.4V526.7M1165.45 531.4V526.7M1274.9 531.4V526.7" stroke="#0a0a0a" stroke-width="3.7" stroke-linecap="butt" stroke-linejoin="miter"/>
<path d="M1001.2 334.25V531.4H1331.4" stroke="#0a0a0a" stroke-width="3.75" stroke-linecap="butt" stroke-linejoin="miter"/>
<path d="M1056 435.7V429.1M1043.6 429.1H1068.4M1056 462.2V497.6M1043.6 497.6H1068.4" stroke="#050505" stroke-width="3.75" stroke-linecap="butt" stroke-linejoin="miter"/>
<path d="M1031.3 435.7H1080.7V462.2H1031.3Z" stroke="#050505" stroke-width="3.75" stroke-linecap="butt" stroke-linejoin="round"/>
<path d="M1031.3 447.2H1080.7" stroke="#2b2b2b" stroke-width="3.3" stroke-linecap="butt" stroke-linejoin="miter"/>
<path d="M1165.45 421.7V400M1153.05 400H1177.85M1165.45 472.2V531.4" stroke="#050505" stroke-width="3.75" stroke-linecap="butt" stroke-linejoin="miter"/>
<path d="M1140.75 421.7H1190.15V472.2H1140.75Z" stroke="#050505" stroke-width="3.75" stroke-linecap="butt" stroke-linejoin="round"/>
<path d="M1140.75 436.1H1190.15" stroke="#2b2b2b" stroke-width="3.3" stroke-linecap="butt" stroke-linejoin="miter"/>
<path d="M1274.9 435.7V394.3M1262.5 394.3H1287.3M1274.9 494.9V526M1262.5 526H1287.3" stroke="#050505" stroke-width="3.75" stroke-linecap="butt" stroke-linejoin="miter"/>
<path d="M1250.2 435.7H1299.6V494.9H1250.2Z" stroke="#050505" stroke-width="3.75" stroke-linecap="butt" stroke-linejoin="round"/>
<path d="M1250.2 459.5H1299.6" stroke="#2b2b2b" stroke-width="3.3" stroke-linecap="butt" stroke-linejoin="miter"/>
<path d="M1001.2 610.5H1006.1M1001.2 659.33H1006.1M1001.2 708.15H1006.1M1001.2 756.97H1006.1M1056 805.8V801.1M1165.45 805.8V801.1M1274.9 805.8V801.1" stroke="#0a0a0a" stroke-width="3.7" stroke-linecap="butt" stroke-linejoin="miter"/>
<path d="M1001.2 608.65V805.8H1331.4" stroke="#0a0a0a" stroke-width="3.75" stroke-linecap="butt" stroke-linejoin="miter"/>
<path d="M1056 708V691.7M1043.6 691.7H1068.4M1056 749.1V792.9M1043.6 792.9H1068.4" stroke="#050505" stroke-width="3.75" stroke-linecap="butt" stroke-linejoin="miter"/>
<path d="M1031.3 708H1080.7V749.1H1031.3Z" stroke="#050505" stroke-width="3.75" stroke-linecap="butt" stroke-linejoin="round"/>
<path d="M1142.05 708H1188.85" stroke="#2b2b2b" stroke-width="3.4" stroke-linecap="round" stroke-linejoin="miter"/>
<path d="M1251.5 708H1298.3" stroke="#2b2b2b" stroke-width="3.4" stroke-linecap="round" stroke-linejoin="miter"/>
<path d="M1467.5 63.7H1472.4M1467.5 96.88H1472.4M1467.5 130.05H1472.4M1467.5 163.22H1472.4M1517.4 196.4V191.7M1617.4 196.4V191.7M1717.4 196.4V191.7" stroke="#0a0a0a" stroke-width="3.7" stroke-linecap="butt" stroke-linejoin="miter"/>
<path d="M1467.5 61.85V196.4H1769.1" stroke="#0a0a0a" stroke-width="3.75" stroke-linecap="butt" stroke-linejoin="miter"/>
<path d="M1494.4 187.4H1540.4V196.4H1494.4Z" stroke="#050505" stroke-width="3.75" stroke-linecap="butt" stroke-linejoin="round"/>
<path d="M1617.4 170.4V147.1M1606.4 147.1H1628.4" stroke="#050505" stroke-width="3.75" stroke-linecap="butt" stroke-linejoin="miter"/>
<path d="M1594.4 170.4H1640.4V196.4H1594.4Z" stroke="#050505" stroke-width="3.75" stroke-linecap="butt" stroke-linejoin="round"/>
<path d="M1717.4 196.4V194M1706.4 194H1728.4" stroke="#050505" stroke-width="3.75" stroke-linecap="butt" stroke-linejoin="miter"/>
<path d="M1695.7 196.4H1739.1" stroke="#2b2b2b" stroke-width="3.4" stroke-linecap="round" stroke-linejoin="miter"/>
<path d="M1467.5 261.9H1472.4M1467.5 294.92H1472.4M1467.5 327.95H1472.4M1467.5 360.98H1472.4M1517.4 394V389.3M1617.4 394V389.3M1717.4 394V389.3" stroke="#0a0a0a" stroke-width="3.7" stroke-linecap="butt" stroke-linejoin="miter"/>
<path d="M1467.5 260.05V394H1769.1" stroke="#0a0a0a" stroke-width="3.75" stroke-linecap="butt" stroke-linejoin="miter"/>
<path d="M1517.4 298.7V261.9M1506.4 261.9H1528.4" stroke="#050505" stroke-width="3.75" stroke-linecap="butt" stroke-linejoin="miter"/>
<path d="M1494.4 298.7H1540.4V394H1494.4Z" stroke="#050505" stroke-width="3.75" stroke-linecap="butt" stroke-linejoin="round"/>
<path d="M1494.4 376.3H1540.4" stroke="#2b2b2b" stroke-width="3.3" stroke-linecap="butt" stroke-linejoin="miter"/>
<path d="M1617.4 272.6V261.9M1606.4 261.9H1628.4M1617.4 352.6V394M1606.4 394H1628.4" stroke="#050505" stroke-width="3.75" stroke-linecap="butt" stroke-linejoin="miter"/>
<path d="M1594.4 272.6H1640.4V352.6H1594.4Z" stroke="#050505" stroke-width="3.75" stroke-linecap="butt" stroke-linejoin="round"/>
<path d="M1594.4 297.1H1640.4" stroke="#2b2b2b" stroke-width="3.3" stroke-linecap="butt" stroke-linejoin="miter"/>
<path d="M1717.4 283V282M1706.4 282H1728.4M1717.4 294.3V302.5M1706.4 302.5H1728.4" stroke="#050505" stroke-width="3.75" stroke-linecap="butt" stroke-linejoin="miter"/>
<path d="M1694.4 283H1740.4V294.3H1694.4Z" stroke="#050505" stroke-width="3.75" stroke-linecap="butt" stroke-linejoin="round"/>
<path d="M1694.4 285.5H1740.4" stroke="#2b2b2b" stroke-width="3.3" stroke-linecap="butt" stroke-linejoin="miter"/>
<path d="M1467.5 477.4H1472.4M1467.5 510.62H1472.4M1467.5 543.85H1472.4M1467.5 577.07H1472.4M1517.4 610.3V605.6M1617.4 610.3V605.6M1717.4 610.3V605.6" stroke="#0a0a0a" stroke-width="3.7" stroke-linecap="butt" stroke-linejoin="miter"/>
<path d="M1467.5 475.55V610.3H1769.1" stroke="#0a0a0a" stroke-width="3.75" stroke-linecap="butt" stroke-linejoin="miter"/>
<path d="M1517.4 504.1V477.4M1506.4 477.4H1528.4" stroke="#050505" stroke-width="3.75" stroke-linecap="butt" stroke-linejoin="miter"/>
<path d="M1494.4 504.1H1540.4V610.3H1494.4Z" stroke="#050505" stroke-width="3.75" stroke-linecap="butt" stroke-linejoin="round"/>
<path d="M1494.4 581.5H1540.4" stroke="#2b2b2b" stroke-width="3.3" stroke-linecap="butt" stroke-linejoin="miter"/>
<path d="M1594.4 599.9H1640.4V610.3H1594.4Z" stroke="#050505" stroke-width="3.75" stroke-linecap="butt" stroke-linejoin="round"/>
<path d="M1695.7 610.3H1739.1" stroke="#2b2b2b" stroke-width="3.4" stroke-linecap="round" stroke-linejoin="miter"/>
<path d="M1467.5 672.6H1472.4M1467.5 705.7H1472.4M1467.5 738.8H1472.4M1467.5 771.9H1472.4M1517.4 805V800.3M1617.4 805V800.3M1717.4 805V800.3" stroke="#0a0a0a" stroke-width="3.7" stroke-linecap="butt" stroke-linejoin="miter"/>
<path d="M1467.5 670.75V805H1769.1" stroke="#0a0a0a" stroke-width="3.75" stroke-linecap="butt" stroke-linejoin="miter"/>
<path d="M1517.4 788.4V764.8M1506.4 764.8H1528.4" stroke="#050505" stroke-width="3.75" stroke-linecap="butt" stroke-linejoin="miter"/>
<path d="M1494.4 788.4H1540.4V805H1494.4Z" stroke="#050505" stroke-width="3.75" stroke-linecap="butt" stroke-linejoin="round"/>
<path d="M1494.4 801.8H1540.4" stroke="#2b2b2b" stroke-width="3.3" stroke-linecap="butt" stroke-linejoin="miter"/>
<path d="M1617.4 790.9V778.6M1606.4 778.6H1628.4" stroke="#050505" stroke-width="3.75" stroke-linecap="butt" stroke-linejoin="miter"/>
<path d="M1594.4 790.9H1640.4V805H1594.4Z" stroke="#050505" stroke-width="3.75" stroke-linecap="butt" stroke-linejoin="round"/>
<path d="M1594.4 798H1640.4" stroke="#2b2b2b" stroke-width="3.3" stroke-linecap="butt" stroke-linejoin="miter"/>
<path d="M1717.4 795.9V787.4M1706.4 787.4H1728.4" stroke="#050505" stroke-width="3.75" stroke-linecap="butt" stroke-linejoin="miter"/>
<path d="M1694.4 795.9H1740.4V805H1694.4Z" stroke="#050505" stroke-width="3.75" stroke-linecap="butt" stroke-linejoin="round"/>
<path d="M1694.4 801.3H1740.4" stroke="#2b2b2b" stroke-width="3.3" stroke-linecap="butt" stroke-linejoin="miter"/>
</g>
<g class="ticklabels">
<text transform="translate(138.7 72.9) scale(0.955 1)" text-anchor="end" class="tk">3000</text>
<text transform="translate(138.7 122) scale(0.955 1)" text-anchor="end" class="tk">2800</text>
<text transform="translate(138.7 171.1) scale(0.955 1)" text-anchor="end" class="tk">2600</text>
<text transform="translate(138.7 220.2) scale(0.955 1)" text-anchor="end" class="tk">2400</text>
<text transform="translate(138.7 269.3) scale(0.955 1)" text-anchor="end" class="tk">2200</text>
<text transform="translate(138.7 345.1) scale(0.955 1)" text-anchor="end" class="tk">6</text>
<text transform="translate(138.7 410.2) scale(0.955 1)" text-anchor="end" class="tk">5</text>
<text transform="translate(138.7 475.3) scale(0.955 1)" text-anchor="end" class="tk">4</text>
<text transform="translate(138.7 540.4) scale(0.955 1)" text-anchor="end" class="tk">3</text>
<text transform="translate(138.7 619.5) scale(0.955 1)" text-anchor="end" class="tk">60</text>
<text transform="translate(138.7 684.6) scale(0.955 1)" text-anchor="end" class="tk">40</text>
<text transform="translate(138.7 749.7) scale(0.955 1)" text-anchor="end" class="tk">20</text>
<text transform="translate(138.7 814.8) scale(0.955 1)" text-anchor="end" class="tk">0</text>
<text transform="translate(201.2 836) scale(0.955 1)" text-anchor="middle" class="tk">H</text>
<text transform="translate(310.6 836) scale(0.955 1)" text-anchor="middle" class="tk">M</text>
<text transform="translate(420 836) scale(0.955 1)" text-anchor="middle" class="tk">L</text>
<text transform="translate(595.9 836) scale(0.955 1)" text-anchor="middle" class="tk">H</text>
<text transform="translate(705.05 836) scale(0.955 1)" text-anchor="middle" class="tk">M</text>
<text transform="translate(814.2 836) scale(0.955 1)" text-anchor="middle" class="tk">L</text>
<text transform="translate(993.3 72.9) scale(0.955 1)" text-anchor="end" class="tk">300</text>
<text transform="translate(993.3 122) scale(0.955 1)" text-anchor="end" class="tk">150</text>
<text transform="translate(993.3 171.1) scale(0.955 1)" text-anchor="end" class="tk">0</text>
<text transform="translate(993.3 220.2) scale(0.955 1)" text-anchor="end" class="tk">-150</text>
<text transform="translate(993.3 269.3) scale(0.955 1)" text-anchor="end" class="tk">-300</text>
<text transform="translate(993.3 345.1) scale(0.955 1)" text-anchor="end" class="tk">1</text>
<text transform="translate(993.3 393.93) scale(0.955 1)" text-anchor="end" class="tk">0.5</text>
<text transform="translate(993.3 442.75) scale(0.955 1)" text-anchor="end" class="tk">0</text>
<text transform="translate(993.3 491.57) scale(0.955 1)" text-anchor="end" class="tk">-0.5</text>
<text transform="translate(993.3 540.4) scale(0.955 1)" text-anchor="end" class="tk">-1</text>
<text transform="translate(993.3 619.5) scale(0.955 1)" text-anchor="end" class="tk">50</text>
<text transform="translate(993.3 668.33) scale(0.955 1)" text-anchor="end" class="tk">25</text>
<text transform="translate(993.3 717.15) scale(0.955 1)" text-anchor="end" class="tk">0</text>
<text transform="translate(993.3 765.97) scale(0.955 1)" text-anchor="end" class="tk">-25</text>
<text transform="translate(993.3 814.8) scale(0.955 1)" text-anchor="end" class="tk">-50</text>
<text transform="translate(1055.6 836) scale(0.955 1)" text-anchor="middle" class="tk">H</text>
<text transform="translate(1165.05 836) scale(0.955 1)" text-anchor="middle" class="tk">M</text>
<text transform="translate(1274.5 836) scale(0.955 1)" text-anchor="middle" class="tk">L</text>
<text transform="translate(1459.6 72.7) scale(0.955 1)" text-anchor="end" class="tk">100</text>
<text transform="translate(1459.6 105.88) scale(0.955 1)" text-anchor="end" class="tk">75</text>
<text transform="translate(1459.6 139.05) scale(0.955 1)" text-anchor="end" class="tk">50</text>
<text transform="translate(1459.6 172.22) scale(0.955 1)" text-anchor="end" class="tk">25</text>
<text transform="translate(1459.6 205.4) scale(0.955 1)" text-anchor="end" class="tk">0</text>
<text transform="translate(1459.6 270.9) scale(0.955 1)" text-anchor="end" class="tk">100</text>
<text transform="translate(1459.6 303.92) scale(0.955 1)" text-anchor="end" class="tk">75</text>
<text transform="translate(1459.6 336.95) scale(0.955 1)" text-anchor="end" class="tk">50</text>
<text transform="translate(1459.6 369.98) scale(0.955 1)" text-anchor="end" class="tk">25</text>
<text transform="translate(1459.6 403) scale(0.955 1)" text-anchor="end" class="tk">0</text>
<text transform="translate(1459.6 486.4) scale(0.955 1)" text-anchor="end" class="tk">100</text>
<text transform="translate(1459.6 519.62) scale(0.955 1)" text-anchor="end" class="tk">75</text>
<text transform="translate(1459.6 552.85) scale(0.955 1)" text-anchor="end" class="tk">50</text>
<text transform="translate(1459.6 586.07) scale(0.955 1)" text-anchor="end" class="tk">25</text>
<text transform="translate(1459.6 619.3) scale(0.955 1)" text-anchor="end" class="tk">0</text>
<text transform="translate(1459.6 681.6) scale(0.955 1)" text-anchor="end" class="tk">100</text>
<text transform="translate(1459.6 714.7) scale(0.955 1)" text-anchor="end" class="tk">75</text>
<text transform="translate(1459.6 747.8) scale(0.955 1)" text-anchor="end" class="tk">50</text>
<text transform="translate(1459.6 780.9) scale(0.955 1)" text-anchor="end" class="tk">25</text>
<text transform="translate(1459.6 814) scale(0.955 1)" text-anchor="end" class="tk">0</text>
<text transform="translate(1517 835.6) scale(0.955 1)" text-anchor="middle" class="tk">H</text>
<text transform="translate(1617 835.6) scale(0.955 1)" text-anchor="middle" class="tk">M</text>
<text transform="translate(1717 835.6) scale(0.955 1)" text-anchor="middle" class="tk">L</text>
</g>
<g class="labels">
<text transform="translate(290.07 34.85) scale(0.9654 1)" class="lb" style="font-size:42.33px" stroke="#fff" stroke-width="0.18">CS</text>
<text transform="translate(674.36 34.76) scale(1.0288 1)" class="lb" style="font-size:41.37px" stroke="#fff" stroke-width="0.18">PhC</text>
<text transform="translate(1083.53 33.77) scale(1.0788 1)" class="lb" style="font-size:40.73px" stroke="#fff" stroke-width="0.18">PhC - CS</text>
<text transform="translate(1540.41 33.86) scale(1.0006 1)" class="lb" style="font-size:41.11px" stroke="#fff" stroke-width="0.18">Module</text>
<text transform="translate(19.72 169.05) scale(0.9779 1)" class="lb" style="font-size:56.41px" stroke="#fff" stroke-width="1.1">ω</text>
<line x1="26.6" y1="130.6" x2="58.9" y2="130.6" stroke="#0a0a0a" stroke-width="1.8"/>
<text transform="translate(8.07 195.57) scale(1.0239 1)" class="lb" style="font-size:22.38px" stroke="#fff" stroke-width="0.12"><tspan style="font-size:1.09em" dy="0.095em">(</tspan><tspan dy="-0.104em">rpm</tspan><tspan style="font-size:1.09em" dy="0.095em">)</tspan></text>
<text transform="translate(25.33 440.04) scale(0.9688 1)" class="lb" style="font-size:44.9px" stroke="#fff" stroke-width="0.18">Q</text>
<line x1="33.2" y1="402.2" x2="50.8" y2="402.2" stroke="#0a0a0a" stroke-width="1.8"/>
<text transform="translate(-0.39 468.24) scale(1.1041 1)" class="lb" style="font-size:21.3px" stroke="#fff" stroke-width="0.12"><tspan style="font-size:1.09em" dy="0.095em">(</tspan><tspan dy="-0.104em">L/min</tspan><tspan style="font-size:1.09em" dy="0.095em">)</tspan></text>
<text transform="translate(42.44 785.1) rotate(-91.1) scale(0.9858 1)" class="lb" style="font-size:42.4px" stroke="#fff" stroke-width="0.18">Suction</text>
<text transform="translate(69.79 759.67) rotate(-90) scale(1.0674 1)" class="lb" style="font-size:21.9px" stroke="#fff" stroke-width="0.12"><tspan style="font-size:1.09em" dy="0.095em">(</tspan><tspan dy="-0.104em">SE/min</tspan><tspan style="font-size:1.09em" dy="0.095em">)</tspan></text>
<text transform="translate(876.84 167.3) scale(1.0204 1)" class="dl" style="font-size:40.76px">Δ</text>
<text transform="translate(900.65 169.34) scale(0.9552 1)" class="lb" style="font-size:57.3px" stroke="#fff" stroke-width="1.1">ω</text>
<line x1="907.1" y1="131.6" x2="939.3" y2="131.6" stroke="#0a0a0a" stroke-width="1.8"/>
<text transform="translate(888.14 196.12) scale(1.0277 1)" class="lb" style="font-size:22.59px" stroke="#fff" stroke-width="0.12"><tspan style="font-size:1.09em" dy="0.095em">(</tspan><tspan dy="-0.104em">rpm</tspan><tspan style="font-size:1.09em" dy="0.095em">)</tspan></text>
<text transform="translate(879.83 436.9) scale(1.0171 1)" class="dl" style="font-size:41.07px">Δ</text>
<text transform="translate(905.82 438.62) scale(0.9847 1)" class="lb" style="font-size:44.32px" stroke="#fff" stroke-width="0.18">Q</text>
<line x1="913.7" y1="400.2" x2="931.4" y2="400.2" stroke="#0a0a0a" stroke-width="1.8"/>
<text transform="translate(879.8 466.29) scale(1.0980 1)" class="lb" style="font-size:21.5px" stroke="#fff" stroke-width="0.12"><tspan style="font-size:1.09em" dy="0.095em">(</tspan><tspan dy="-0.104em">L/min</tspan><tspan style="font-size:1.09em" dy="0.095em">)</tspan></text>
<text transform="translate(921.5 807.65) rotate(-90) scale(0.9682 1)" class="dl" style="font-size:42.6px">Δ</text>
<text transform="translate(922.84 779.91) rotate(-91.1) scale(0.9898 1)" class="lb" style="font-size:42.4px" stroke="#fff" stroke-width="0.18">Suction</text>
<text transform="translate(950.06 753.76) rotate(-90) scale(1.0744 1)" class="lb" style="font-size:21.6px" stroke="#fff" stroke-width="0.12"><tspan style="font-size:1.09em" dy="0.095em">(</tspan><tspan dy="-0.104em">SE/min</tspan><tspan style="font-size:1.09em" dy="0.095em">)</tspan></text>
<text transform="translate(1350.79 130.66) scale(1.0669 1)" class="lb" style="font-size:41.54px" stroke="#fff" stroke-width="0.18">PS</text>
<text transform="translate(1355.24 155.78) scale(1.1554 1)" class="lb" style="font-size:21.94px" stroke="#fff" stroke-width="0.12"><tspan style="font-size:1.09em" dy="0.095em">(</tspan><tspan dy="-0.104em">%</tspan><tspan style="font-size:1.09em" dy="0.095em">)</tspan></text>
<text transform="translate(1347.87 331.58) scale(1.0272 1)" class="lb" style="font-size:41.32px" stroke="#fff" stroke-width="0.18">DR</text>
<text transform="translate(1355.45 356.28) scale(1.1498 1)" class="lb" style="font-size:21.94px" stroke="#fff" stroke-width="0.12"><tspan style="font-size:1.09em" dy="0.095em">(</tspan><tspan dy="-0.104em">%</tspan><tspan style="font-size:1.09em" dy="0.095em">)</tspan></text>
<text transform="translate(1350.48 541.46) scale(1.0480 1)" class="lb" style="font-size:41.67px" stroke="#fff" stroke-width="0.18">SU</text>
<text transform="translate(1357.14 566.5) scale(1.1608 1)" class="lb" style="font-size:21.84px" stroke="#fff" stroke-width="0.12"><tspan style="font-size:1.09em" dy="0.095em">(</tspan><tspan dy="-0.104em">%</tspan><tspan style="font-size:1.09em" dy="0.095em">)</tspan></text>
<text transform="translate(1342.42 740.68) scale(1.1155 1)" class="lb" style="font-size:42.14px" stroke="#fff" stroke-width="0.18">RLI</text>
<text transform="translate(1354.93 765.78) scale(1.1583 1)" class="lb" style="font-size:21.94px" stroke="#fff" stroke-width="0.12"><tspan style="font-size:1.09em" dy="0.095em">(</tspan><tspan dy="-0.104em">%</tspan><tspan style="font-size:1.09em" dy="0.095em">)</tspan></text>
</g>
</svg>
</body>
</html>
